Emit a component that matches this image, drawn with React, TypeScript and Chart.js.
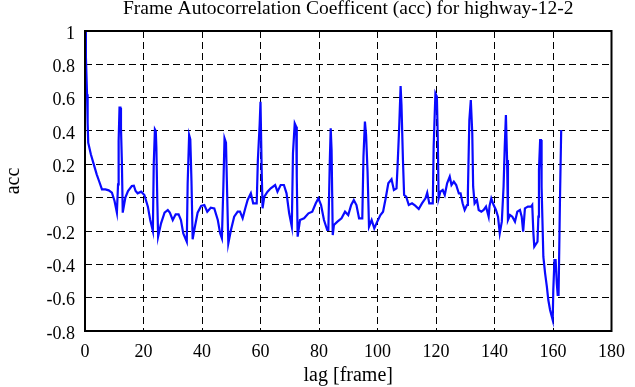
import React, { useEffect, useRef } from "react";
import { Chart, registerables } from "chart.js";

Chart.register(...registerables);

const TITLE = "Frame Autocorrelation Coefficent (acc) for highway-12-2";
const X_LABEL = "lag [frame]";
const Y_LABEL = "acc";
const X_TICKS = [0, 20, 40, 60, 80, 100, 120, 140, 160, 180];
const Y_TICKS = [-0.8, -0.6, -0.4, -0.2, 0, 0.2, 0.4, 0.6, 0.8, 1];

const LAGS = [
  0, 0.3, 0.7, 0.9, 1.1, 2, 3, 4, 4.8, 5.8, 7, 8.1, 9.2, 10.1, 10.9, 11.3, 11.5, 11.8, 12.1, 12.3, 12.6, 12.9,
  13.8, 14.7, 16, 16.7, 17.3, 18, 19.2, 20.3, 21.5, 22.3, 23.2, 23.5, 23.9, 24.2, 24.4, 24.7, 25, 26, 27.2,
  28.3, 29, 30, 31, 32, 32.8, 33.6, 34.8, 35.1, 35.6, 36, 36.4, 36.8, 37.4, 38.5, 39.7, 40.8, 41.8, 43, 44.2,
  45.4, 46.2, 46.8, 47.3, 47.7, 48.2, 48.5, 49, 49.9, 51, 52.2, 53, 53.9, 54.8, 55.6, 56.7, 57.5, 58.7, 59.1,
  59.7, 60, 60.4, 60.7, 61.3, 62.4, 63.5, 65, 65.8, 66.9, 68, 68.9, 69.8, 70.7, 71.1, 71.7, 72.2, 72.4, 72.7,
  73.5, 74.9, 76.4, 77.7, 78.9, 79.8, 80.7, 81.7, 82.8, 83.2, 83.7, 84, 84.3, 84.7, 85.1, 86.3, 87.7, 88.9,
  90, 91, 91.9, 92.8, 93.7, 94.8, 95.2, 95.7, 96.1, 96.6, 97.1, 98, 98.9, 99.9, 101, 101.9, 102.8, 103.7,
  104.8, 105.6, 106.5, 106.9, 107.4, 107.9, 108.2, 108.7, 109.1, 109.8, 110.7, 111.8, 112.9, 114.1, 115.2,
  116.4, 117, 117.7, 118.9, 119.2, 119.8, 120.3, 120.6, 120.9, 121.5, 122.3, 123, 123.8, 124.7, 125.3, 126.1,
  126.9, 127.8, 128.4, 129.1, 129.8, 130.6, 130.9, 131.4, 131.9, 132.4, 132.7, 133.2, 134, 134.6, 135.5,
  136.3, 137.1, 138, 138.3, 138.9, 139.7, 140.5, 141.2, 141.8, 142.2, 142.5, 143.1, 143.5, 143.9, 144.3,
  144.6, 145.3, 146.1, 147, 147.8, 148.7, 149.3, 149.8, 150.4, 151.4, 152.5, 152.9, 153.3, 153.6, 154.7,
  155, 155.2, 155.6, 155.9, 156.1, 156.7, 157.3, 157.9, 158.4, 159, 159.6, 159.9, 160.1, 160.5, 160.9,
  161.3, 161.6, 161.9, 162.2, 162.4, 162.8,
];

const ACC = [
  1.0, 0.85, 0.62, 0.45, 0.33, 0.26, 0.2, 0.14, 0.1, 0.05, 0.05, 0.044, 0.03, -0.02, -0.09, 0.08, 0.34, 0.54,
  0.54, 0.42, 0.22, -0.09, 0.0, 0.04, 0.07, 0.072, 0.04, 0.026, 0.036, 0.016, -0.054, -0.134, -0.2, 0.2, 0.41,
  0.4, 0.3, 0.0, -0.234, -0.154, -0.09, -0.074, -0.09, -0.134, -0.1, -0.1, -0.134, -0.214, -0.264, 0.086,
  0.376, 0.35, 0.1, -0.25, -0.19, -0.09, -0.05, -0.044, -0.084, -0.06, -0.065, -0.134, -0.214, -0.244,
  0.066, 0.356, 0.33, 0.1, -0.274, -0.194, -0.114, -0.084, -0.084, -0.124, -0.064, -0.014, 0.026, -0.034,
  -0.034, 0.226, 0.436, 0.576, 0.166, -0.064, 0.006, 0.036, 0.056, 0.076, 0.036, 0.076, 0.076, 0.026,
  -0.094, -0.174, 0.266, 0.446, 0.426, 0.126, -0.234, -0.134, -0.124, -0.094, -0.084, -0.034, -0.004,
  -0.044, -0.134, -0.194, -0.194, 0.226, 0.416, 0.286, -0.224, -0.164, -0.144, -0.124, -0.084, -0.104,
  -0.044, -0.014, -0.044, -0.124, -0.124, 0.246, 0.456, 0.376, 0.156, -0.174, -0.134, -0.184, -0.144,
  -0.104, -0.084, -0.004, 0.086, 0.11, 0.046, 0.056, 0.206, 0.416, 0.67, 0.556, 0.226, 0.016, 0.006,
  -0.044, -0.034, -0.048, -0.068, -0.034, -0.004, 0.03, -0.034, -0.034, 0.306, 0.626, 0.606, 0.366,
  -0.004, 0.036, 0.046, 0.016, 0.086, 0.126, 0.076, 0.096, 0.076, 0.026, 0.026, -0.034, -0.074, -0.044,
  0.026, 0.466, 0.586, 0.386, 0.066, -0.034, -0.014, -0.074, -0.084, -0.074, -0.054, -0.114, -0.05,
  -0.004, -0.044, -0.074, -0.114, -0.214, -0.174, -0.144, 0.066, 0.306, 0.496, 0.226, -0.134, -0.104,
  -0.114, -0.144, -0.084, -0.074, -0.114, -0.204, -0.064, -0.054, -0.054, -0.044, -0.214, -0.294,
  -0.264, -0.114, 0.166, 0.346, 0.346, 0.066, -0.354, -0.454, -0.534, -0.614, -0.674, -0.714, -0.734,
  -0.554, -0.374, -0.374, -0.514, -0.584, -0.584, -0.234, 0.006, 0.406,
];

const FONT = "'Liberation Serif', 'DejaVu Serif', serif";

const boxPlugin = {
  id: "boxFrame",
  afterDraw(chart: any) {
    const { ctx, chartArea } = chart;
    ctx.save();
    ctx.strokeStyle = "#000";
    ctx.lineWidth = 2;
    ctx.setLineDash([]);
    ctx.strokeRect(chartArea.left, chartArea.top, chartArea.right - chartArea.left, chartArea.bottom - chartArea.top);
    ctx.restore();
  },
};

export default function App() {
  const ref = useRef<HTMLCanvasElement>(null);

  useEffect(() => {
    document.body.style.margin = "0";
    const canvas = ref.current;
    if (!canvas) return;
    const points = LAGS.map((x, i) => ({ x, y: ACC[i] }));
    const chart = new Chart(canvas, {
      type: "line",
      data: {
        datasets: [
          {
            data: points,
            borderColor: "#0a0aff",
            borderWidth: 2.2,
            pointRadius: 0,
            tension: 0,
            fill: false,
          },
        ],
      },
      options: {
        responsive: false,
        animation: false,
        layout: { padding: { left: 0, right: 22, top: 0, bottom: 0 } },
        plugins: {
          legend: { display: false },
          tooltip: { enabled: false },
          title: {
            display: true,
            text: TITLE,
            color: "#000",
            fullSize: false,
            font: { family: FONT, size: 19.5, weight: "normal", lineHeight: 0.8 },
            padding: { top: 1, bottom: 14.4 },
          },
        },
        scales: {
          x: {
            type: "linear",
            min: 0,
            max: 180,
            afterBuildTicks: (scale: any) => {
              scale.ticks = X_TICKS.map((v) => ({ value: v }));
            },
            afterFit: (scale: any) => {
              scale.height = 56;
            },
            ticks: {
              color: "#000",
              font: { family: FONT, size: 18 },
              padding: 10,
              maxRotation: 0,
              autoSkip: false,
              callback: (v: any) => String(v),
            },
            grid: { color: "#000", lineWidth: 1, drawTicks: false },
            border: { display: false, dash: [7, 4] },
            title: {
              display: true,
              text: X_LABEL,
              color: "#000",
              font: { family: FONT, size: 20, lineHeight: 1 },
              padding: { top: 0, bottom: 1 },
            },
          },
          y: {
            type: "linear",
            min: -0.8,
            max: 1,
            afterBuildTicks: (scale: any) => {
              scale.ticks = Y_TICKS.map((v) => ({ value: v }));
            },
            afterFit: (scale: any) => {
              scale.width = 85;
            },
            ticks: {
              color: "#000",
              font: { family: FONT, size: 18 },
              padding: 10,
              labelOffset: 3,
              autoSkip: false,
              callback: (v: any) => String(Number(Number(v).toFixed(1))),
            },
            grid: { color: "#000", lineWidth: 1, drawTicks: false },
            border: { display: false, dash: [7, 4] },
            title: {
              display: true,
              text: Y_LABEL,
              color: "#000",
              font: { family: FONT, size: 20, lineHeight: 1.2 },
              padding: { top: 2, bottom: 0 },
            },
          },
        },
      },
      plugins: [boxPlugin],
    });
    return () => chart.destroy();
  }, []);

  return (
    <div style={{ position: "absolute", left: 0, top: 0, width: 635, height: 387 }}>
      <canvas ref={ref} width={635} height={387} />
    </div>
  );
}
